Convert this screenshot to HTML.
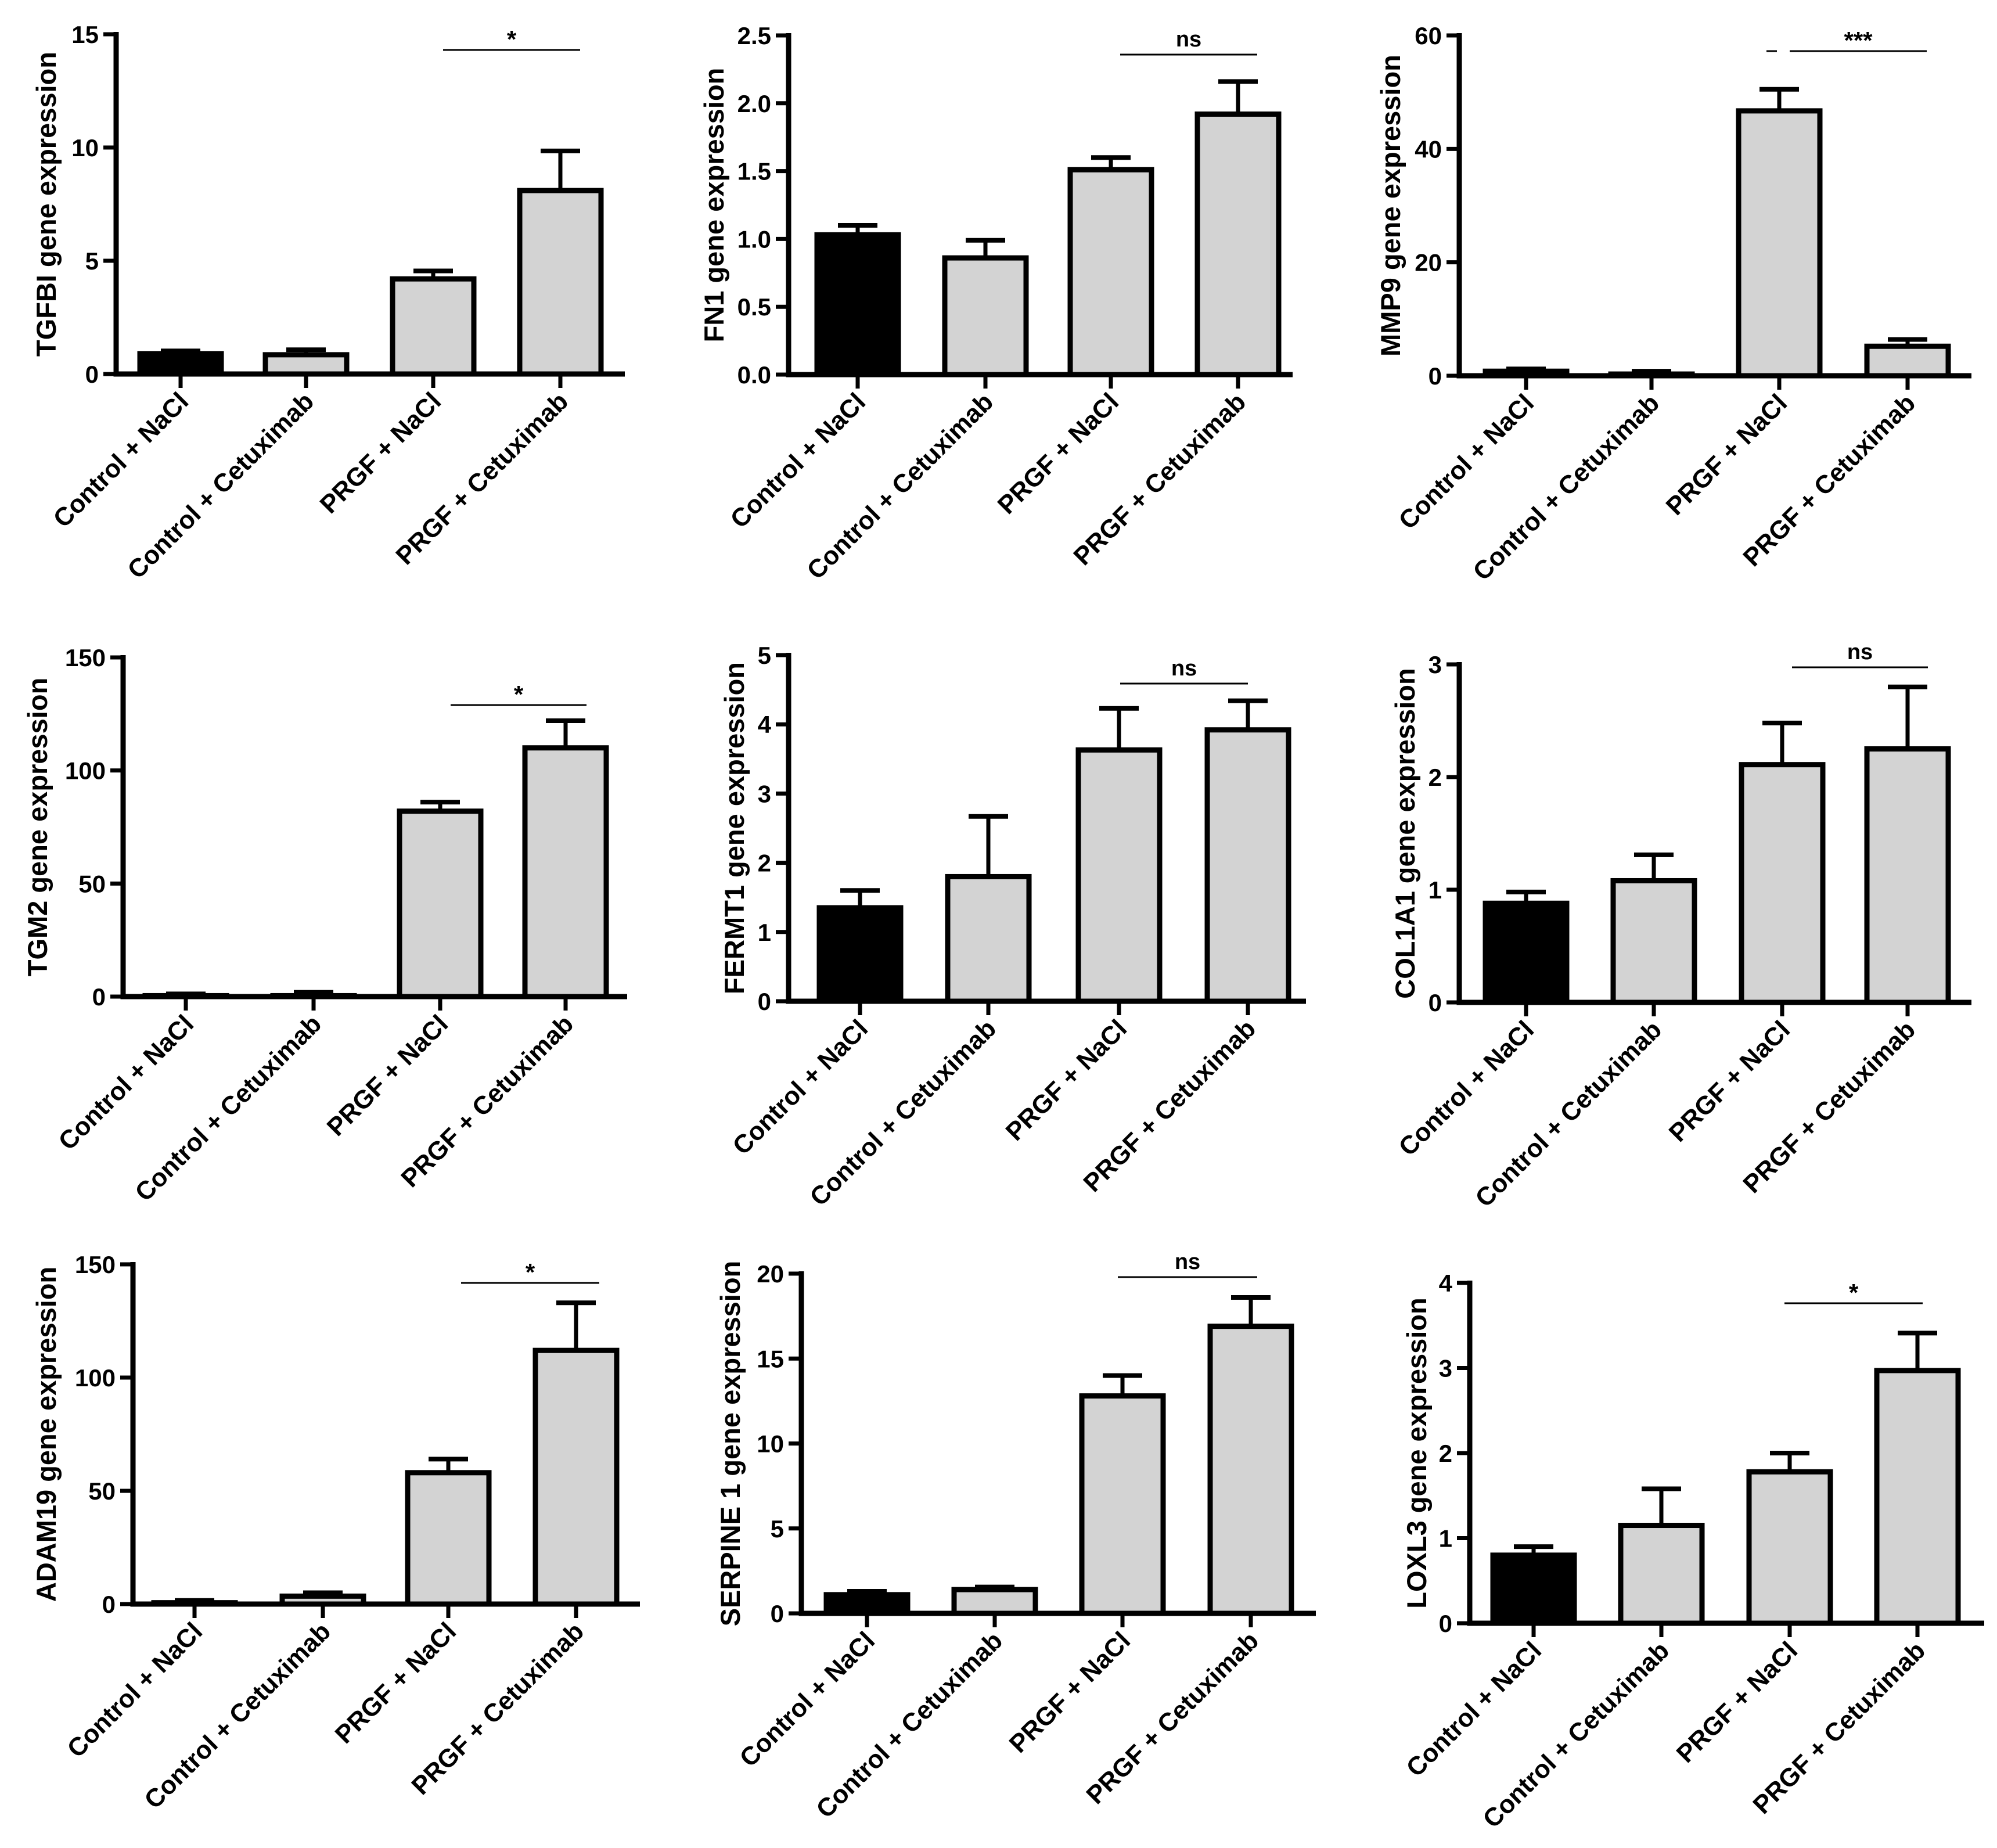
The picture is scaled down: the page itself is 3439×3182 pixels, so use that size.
<!DOCTYPE html>
<html><head><meta charset="utf-8">
<style>
html,body{margin:0;padding:0;background:#fff;}
svg{display:block;font-family:"Liberation Sans",Arial,sans-serif;font-weight:bold;}
</style></head>
<body>
<svg id="fig" width="3439" height="3182" viewBox="0 0 3439 3182"></svg>
<script>
const categories = ["Control + NaCl","Control + Cetuximab","PRGF + NaCl","PRGF + Cetuximab"];
const tgfbiMeans = [0.9,0.85,4.2,8.1];      const tgfbiErr = [0.12,0.22,0.35,1.75];
const fn1Means = [1.03,0.86,1.51,1.92];     const fn1Err = [0.07,0.13,0.09,0.24];
const mmp9Means = [0.8,0.3,46.7,5.2];       const mmp9Err = [0.4,0.5,3.8,1.2];
const tgm2Means = [0.4,0.4,82,110];         const tgm2Err = [0.8,1.5,4,12];
const fermt1Means = [1.35,1.8,3.63,3.92];   const fermt1Err = [0.25,0.87,0.6,0.42];
const col1a1Means = [0.88,1.08,2.11,2.25];  const col1a1Err = [0.1,0.23,0.37,0.55];
const adam19Means = [0.6,3.5,58,112];       const adam19Err = [1,1.5,6,21];
const serpineMeans = [1.1,1.4,12.8,16.9];   const serpineErr = [0.2,0.15,1.2,1.7];
const loxl3Means = [0.8,1.15,1.78,2.97];    const loxl3Err = [0.1,0.43,0.22,0.44];
const tgfbiTicks = ["0","5","10","15"];
const fn1Ticks = ["0.0","0.5","1.0","1.5","2.0","2.5"];
const mmp9Ticks = ["0","20","40","60"];
const tgm2Ticks = ["0","50","100","150"];
const fermt1Ticks = ["0","1","2","3","4","5"];
const col1a1Ticks = ["0","1","2","3"];
const adam19Ticks = ["0","50","100","150"];
const serpineTicks = ["0","5","10","15","20"];
const loxl3Ticks = ["0","1","2","3","4"];
const sigLabels = ["*","ns","***","*","ns","ns","*","ns","*"];

const panels = [
 {id:"tgfbi",title:"TGFBI gene expression",means:tgfbiMeans,err:tgfbiErr,ticks:tgfbiTicks,max:15,ax:200,ar:1076,top:59,zero:644,bx:[311,527,746,965],tx:80,sig:[763,999,86],sl:sigLabels[0]},
 {id:"fn1",title:"FN1 gene expression",means:fn1Means,err:fn1Err,ticks:fn1Ticks,max:2.5,ax:1358,ar:2226,top:61,zero:645,bx:[1477,1697,1913,2132],tx:1230,sig:[1929,2165,94],sl:sigLabels[1]},
 {id:"mmp9",title:"MMP9 gene expression",means:mmp9Means,err:mmp9Err,ticks:mmp9Ticks,max:60,ax:2513,ar:3395,top:61,zero:647,bx:[2628,2844,3064,3285],tx:2395,sig:[3082,3318,88],sl:sigLabels[2],dash:[3042,3060]},
 {id:"tgm2",title:"TGM2 gene expression",means:tgm2Means,err:tgm2Err,ticks:tgm2Ticks,max:150,ax:212,ar:1080,top:1132,zero:1716,bx:[320,540,758,974],tx:65,sig:[776,1010,1214],sl:sigLabels[3]},
 {id:"fermt1",title:"FERMT1 gene expression",means:fermt1Means,err:fermt1Err,ticks:fermt1Ticks,max:5,ax:1358,ar:2249,top:1128,zero:1724,bx:[1481,1702,1927,2149],tx:1265,sig:[1929,2149,1177],sl:sigLabels[4]},
 {id:"col1a1",title:"COL1A1 gene expression",means:col1a1Means,err:col1a1Err,ticks:col1a1Ticks,max:3,ax:2513,ar:3395,top:1144,zero:1726,bx:[2628,2848,3069,3285],tx:2420,sig:[3086,3320,1149],sl:sigLabels[5]},
 {id:"adam19",title:"ADAM19 gene expression",means:adam19Means,err:adam19Err,ticks:adam19Ticks,max:150,ax:229,ar:1102,top:2177,zero:2762,bx:[335,556,772,992],tx:80,sig:[794,1032,2209],sl:sigLabels[6]},
 {id:"serpine1",title:"SERPINE 1 gene expression",means:serpineMeans,err:serpineErr,ticks:serpineTicks,max:20,ax:1380,ar:2266,top:2193,zero:2778,bx:[1493,1713,1933,2154],tx:1258,sig:[1925,2165,2199],sl:sigLabels[7]},
 {id:"loxl3",title:"LOXL3 gene expression",means:loxl3Means,err:loxl3Err,ticks:loxl3Ticks,max:4,ax:2531,ar:3417,top:2209,zero:2795,bx:[2641,2861,3082,3302],tx:2440,sig:[3073,3311,2244],sl:sigLabels[8]}
];

const NS="http://www.w3.org/2000/svg";
const svg=document.getElementById("fig");
function mk(tag,attrs,parent){const e=document.createElementNS(NS,tag);for(const k in attrs)e.setAttribute(k,attrs[k]);(parent||svg).appendChild(e);return e;}

panels.forEach(p=>{
  const g=mk("g",{});
  
  
  const y=v=>p.zero-(v/p.max)*(p.zero-p.top);
  const SW=9, BW=140;
  const ya=mk("line",{x1:p.ax,y1:p.top-4,x2:p.ax,y2:p.zero+SW/2,stroke:"#000","stroke-width":SW},g);
  
  
  const xa=mk("line",{x1:p.ax-SW/2,y1:p.zero,x2:p.ar,y2:p.zero,stroke:"#000","stroke-width":SW},g);
  
  
  const n=p.ticks.length-1;
  p.ticks.forEach((t,i)=>{
    const v=p.max*i/n, yy=y(v);
    mk("line",{x1:p.ax-22,y1:yy,x2:p.ax,y2:yy,stroke:"#000","stroke-width":7},g);
    const tl=mk("text",{x:p.ax-30,y:yy+15,"text-anchor":"end","font-size":42},g);
    tl.textContent=t;
    
    
  });
  const midY=(p.top+p.zero)/2;
  const tt=mk("text",{x:p.tx,y:midY,"text-anchor":"middle","font-size":47,transform:`rotate(-90 ${p.tx} ${midY})`,dy:16},g);
  tt.textContent=p.title;
  
  
  p.means.forEach((m,i)=>{
    const cx=p.bx[i], top=y(m), et=y(m+p.err[i]);
    const el=mk("line",{x1:cx,y1:top,x2:cx,y2:et,stroke:"#000","stroke-width":7},g);
    
    
    const cap=mk("line",{x1:cx-34,y1:et,x2:cx+34,y2:et,stroke:"#000","stroke-width":8},g);
    
    
    const h=Math.max(p.zero-top,0.5);
    const r=mk("rect",{x:cx-BW/2,y:top,width:BW,height:h,fill:i==0?"#000":"#d3d3d3",stroke:"#000","stroke-width":SW},g);
    
    
    mk("line",{x1:cx,y1:p.zero,x2:cx,y2:p.zero+24,stroke:"#000","stroke-width":7},g);
    const lx=cx+16, ly=p.zero+50;
    const xl=mk("text",{x:lx,y:ly,"text-anchor":"end","font-size":44,transform:`rotate(-45 ${lx} ${ly})`},g);
    xl.textContent=categories[i];
    
    
  });
  const sl=mk("line",{x1:p.sig[0],y1:p.sig[2],x2:p.sig[1],y2:p.sig[2],stroke:"#000","stroke-width":3},g);
  
  
  if(p.dash){mk("line",{x1:p.dash[0],y1:p.sig[2],x2:p.dash[1],y2:p.sig[2],stroke:"#000","stroke-width":3},g);}
  const isStar=p.sl.indexOf("*")>=0;
  const st=mk("text",{x:(p.sig[0]+p.sig[1])/2,y:p.sig[2]-(isStar?4:14),"text-anchor":"middle","font-size":isStar?42:38},g);
  st.textContent=p.sl;
  
  
});
</script>
</body></html>
